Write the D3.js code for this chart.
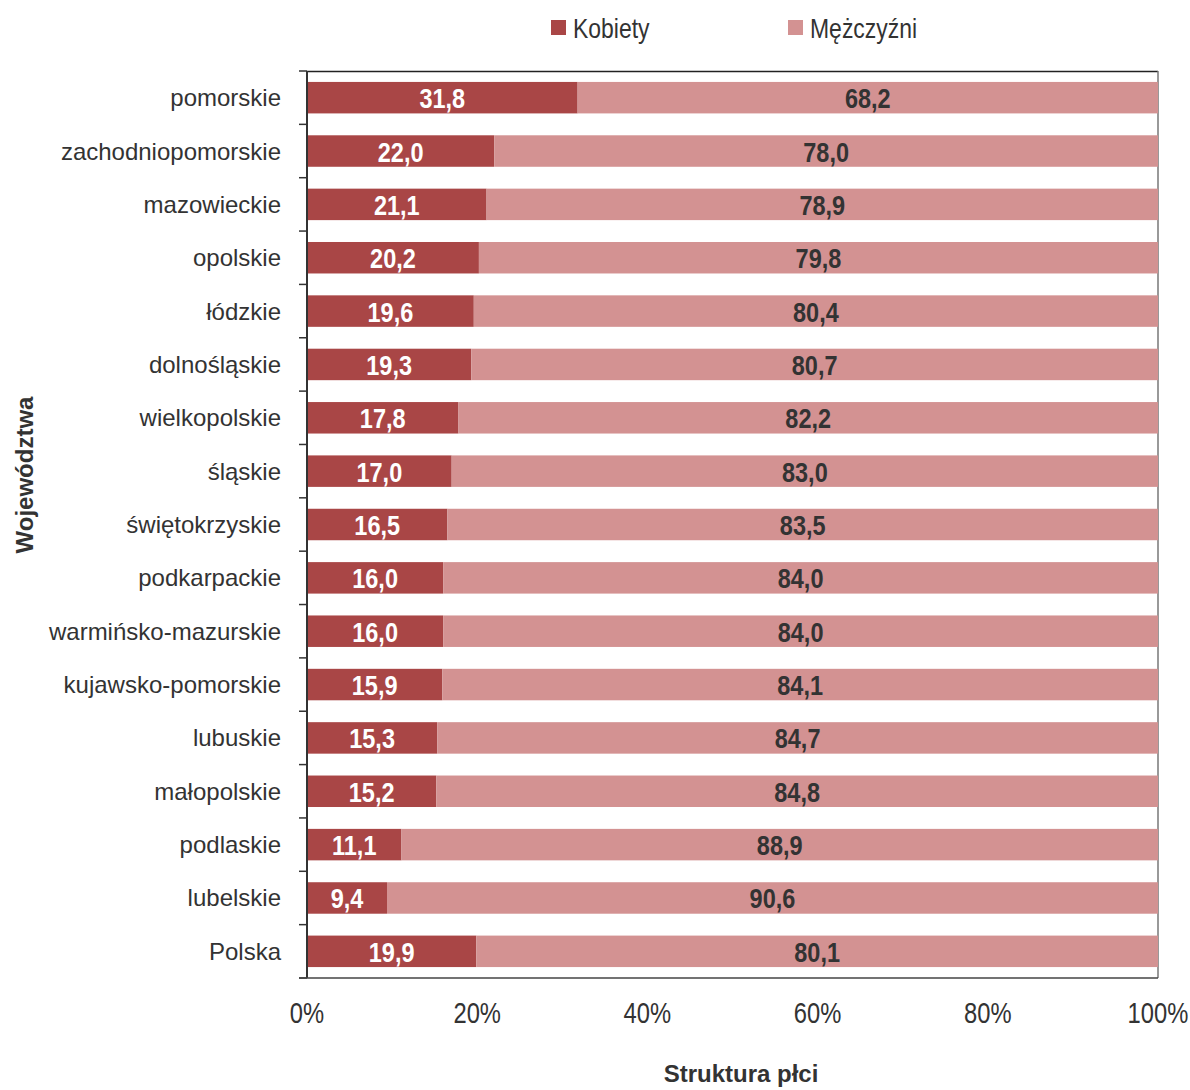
<!DOCTYPE html>
<html>
<head>
<meta charset="utf-8">
<script src="https://cdn.jsdelivr.net/npm/d3@7"></script>
<style>
    body { margin: 0; background: #fff; }
    text { font-family: "Liberation Sans", Arial, sans-serif; }
</style>
</head>
<body>
<div id="vis"></div>
<script>
// Data
var regions = ['pomorskie', 'zachodniopomorskie', 'mazowieckie', 'opolskie', 'łódzkie', 'dolnośląskie',
    'wielkopolskie', 'śląskie', 'świętokrzyskie', 'podkarpackie', 'warmińsko-mazurskie',
    'kujawsko-pomorskie', 'lubuskie', 'małopolskie', 'podlaskie', 'lubelskie', 'Polska'];
var women = [31.8, 22.0, 21.1, 20.2, 19.6, 19.3, 17.8, 17.0, 16.5, 16.0, 16.0, 15.9, 15.3, 15.2, 11.1, 9.4, 19.9];
var men = [68.2, 78.0, 78.9, 79.8, 80.4, 80.7, 82.2, 83.0, 83.5, 84.0, 84.0, 84.1, 84.7, 84.8, 88.9, 90.6, 80.1];
var seriesNames = ['Kobiety', 'Mężczyźni'];
var xTicks = [0, 20, 40, 60, 80, 100];

var colors = ['#a94646', '#d39292'];

var width = 1190, height = 1090;
var margin = { left: 307, right: 32, top: 71, bottom: 112 };
var drawWidth = width - margin.left - margin.right;
var drawHeight = height - margin.top - margin.bottom;

var svg = d3.select('#vis').append('svg')
    .attr('width', width)
    .attr('height', height);

var g = svg.append('g')
    .attr('transform', 'translate(' + margin.left + ',' + margin.top + ')');

var xScale = d3.scaleLinear().domain([0, 100]).range([0, drawWidth]);
var yScale = d3.scaleBand().domain(regions).range([0, drawHeight]).paddingInner(0.41).paddingOuter(0.205);

var fmt = function(v) { return v.toFixed(1).replace('.', ','); };
// narrow text: no condensed font installed, so squeeze horizontally
var squeeze = function(x, y, sx) { return 'translate(' + x + ',' + y + ') scale(' + sx + ',1)'; };

// frame (top and right)
g.append('line').attr('x1', 0).attr('x2', drawWidth).attr('y1', 0.5).attr('y2', 0.5)
    .attr('stroke', '#222').attr('stroke-width', 1.5);
g.append('line').attr('x1', drawWidth).attr('x2', drawWidth).attr('y1', 0).attr('y2', drawHeight)
    .attr('stroke', '#777').attr('stroke-width', 1.5);

// bars
var rows = g.selectAll('.row').data(regions).enter().append('g')
    .attr('class', 'row')
    .attr('transform', function(d) { return 'translate(0,' + yScale(d) + ')'; });

rows.append('rect')
    .attr('x', 0)
    .attr('width', function(d, i) { return xScale(women[i]); })
    .attr('height', yScale.bandwidth())
    .attr('fill', colors[0]);

rows.append('rect')
    .attr('x', function(d, i) { return xScale(women[i]); })
    .attr('width', function(d, i) { return xScale(women[i] + men[i]) - xScale(women[i]); })
    .attr('height', yScale.bandwidth())
    .attr('fill', colors[1]);

rows.append('text')
    .attr('transform', function(d, i) { return squeeze(xScale(women[i] / 2), yScale.bandwidth() / 2 + 10.5, 0.84); })
    .attr('text-anchor', 'middle')
    .attr('font-size', 28)
    .attr('font-weight', 'bold')
    .attr('fill', '#fff')
    .text(function(d, i) { return fmt(women[i]); });

rows.append('text')
    .attr('transform', function(d, i) { return squeeze(xScale(women[i] + men[i] / 2), yScale.bandwidth() / 2 + 10.5, 0.84); })
    .attr('text-anchor', 'middle')
    .attr('font-size', 28)
    .attr('font-weight', 'bold')
    .attr('fill', '#333')
    .text(function(d, i) { return fmt(men[i]); });

// left axis with ticks at row boundaries
g.append('line').attr('x1', 0).attr('x2', 0).attr('y1', 0).attr('y2', drawHeight)
    .attr('stroke', '#333').attr('stroke-width', 2);
var step = yScale.step();
g.selectAll('.ytick').data(d3.range(regions.length + 1)).enter().append('line')
    .attr('class', 'ytick')
    .attr('x1', -8).attr('x2', 0)
    .attr('y1', function(d) { return d * step; })
    .attr('y2', function(d) { return d * step; })
    .attr('stroke', '#333').attr('stroke-width', 1.5);

g.selectAll('.ylab').data(regions).enter().append('text')
    .attr('class', 'ylab')
    .attr('x', -26)
    .attr('y', function(d) { return yScale(d) + yScale.bandwidth() / 2 + 8.5; })
    .attr('text-anchor', 'end')
    .attr('font-size', 24)
    .attr('fill', '#333')
    .text(function(d) { return d; });

// bottom axis
g.append('line').attr('x1', -8).attr('x2', drawWidth).attr('y1', drawHeight).attr('y2', drawHeight)
    .attr('stroke', '#444').attr('stroke-width', 1.5);
g.selectAll('.xlab').data(xTicks).enter().append('text')
    .attr('class', 'xlab')
    .attr('transform', function(d) { return squeeze(xScale(d), drawHeight + 45, 0.82); })
    .attr('text-anchor', 'middle')
    .attr('font-size', 29)
    .attr('fill', '#333')
    .text(function(d) { return d + '%'; });

// axis titles
svg.append('text')
    .attr('x', 741)
    .attr('y', 1082)
    .attr('text-anchor', 'middle')
    .attr('font-size', 24)
    .attr('font-weight', 'bold')
    .attr('fill', '#333')
    .text('Struktura płci');

svg.append('text')
    .attr('transform', 'translate(33,' + (margin.top + 404) + ') rotate(-90)')
    .attr('text-anchor', 'middle')
    .attr('font-size', 24)
    .attr('font-weight', 'bold')
    .attr('fill', '#333')
    .text('Województwa');

// legend
var legendX = [551, 788];
var legend = svg.selectAll('.legend').data(seriesNames).enter().append('g')
    .attr('class', 'legend')
    .attr('transform', function(d, i) { return 'translate(' + legendX[i] + ',20)'; });
legend.append('rect').attr('width', 15).attr('height', 15)
    .attr('fill', function(d, i) { return colors[i]; });
legend.append('text')
    .attr('transform', squeeze(22, 18, 0.82))
    .attr('font-size', 28)
    .attr('fill', '#333')
    .text(function(d) { return d; });
</script>
</body>
</html>
